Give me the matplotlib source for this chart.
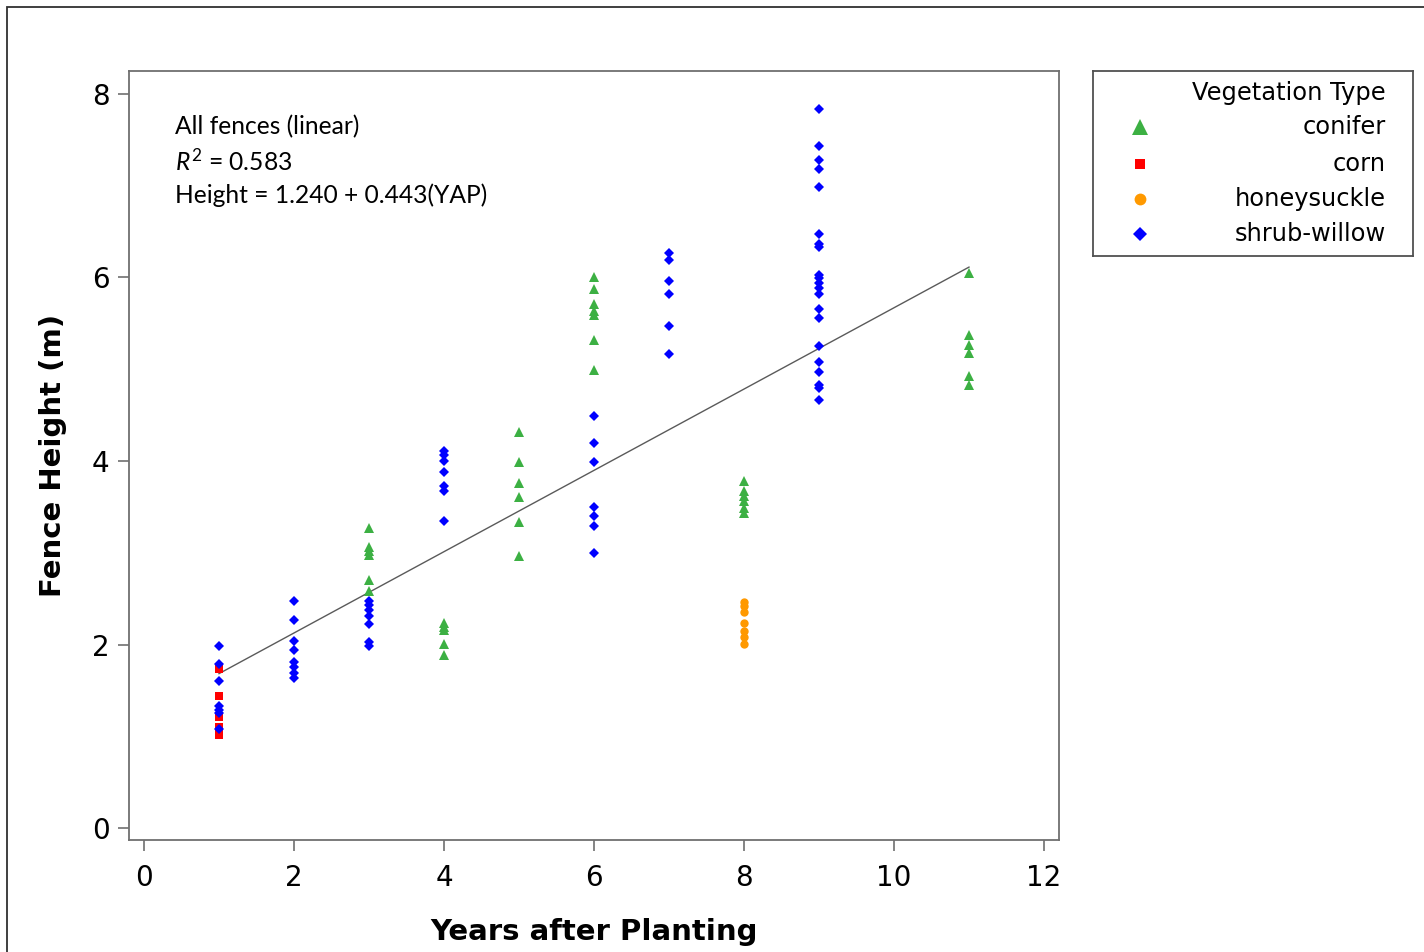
import numpy as np
import matplotlib
matplotlib.use("Agg")
import matplotlib.pyplot as plt
from matplotlib.patches import Rectangle

# ----------------------------
# Data
# ----------------------------
conifer_yap = [3] * 6 + [4] * 5 + [5] * 6 + [6] * 7 + [8] * 6 + [11] * 6
conifer_h = [3.27, 3.06, 3.02, 2.98, 2.70, 2.58,
             2.23, 2.19, 2.16, 2.01, 1.89,
             4.32, 3.99, 3.76, 3.61, 3.33, 2.96,
             6.01, 5.87, 5.71, 5.63, 5.59, 5.32, 4.99,
             3.78, 3.67, 3.62, 3.56, 3.49, 3.43,
             6.05, 5.37, 5.26, 5.18, 4.93, 4.83]

corn_yap = [1] * 5
corn_h = [1.73, 1.44, 1.21, 1.10, 1.01]

honey_yap = [8] * 7
honey_h = [2.46, 2.42, 2.36, 2.23, 2.15, 2.08, 2.01]

willow_yap = [1] * 7 + [2] * 8 + [3] * 7 + [4] * 7 + [6] * 7 + [7] * 6 + [9] * 21
willow_h = [1.98, 1.79, 1.60, 1.33, 1.29, 1.25, 1.08,
            2.47, 2.27, 2.04, 1.94, 1.81, 1.75, 1.69, 1.63,
            2.47, 2.43, 2.38, 2.31, 2.22, 2.03, 1.98,
            4.11, 4.07, 4.00, 3.88, 3.73, 3.67, 3.35,
            4.49, 4.20, 3.99, 3.50, 3.40, 3.29, 3.00,
            6.27, 6.19, 5.96, 5.82, 5.47, 5.17,
            7.84, 7.43, 7.28, 7.18, 6.99, 6.47, 6.36, 6.33, 6.03, 5.99, 5.94,
            5.88, 5.82, 5.66, 5.56, 5.25, 5.08, 4.97, 4.83, 4.80, 4.67]

fit_intercept = 1.240
fit_slope = 0.443
r_squared = 0.583

series = [
    ("conifer", conifer_yap, conifer_h, "^", "#3cb043", 7.0),
    ("corn", corn_yap, corn_h, "s", "#ff0000", 5.5),
    ("honeysuckle", honey_yap, honey_h, "o", "#ff9900", 6.0),
    ("shrub-willow", willow_yap, willow_h, "D", "#0000ff", 4.6),
]

plt.rcParams["mathtext.fontset"] = "custom"
plt.rcParams["mathtext.rm"] = "Lato"
plt.rcParams["mathtext.it"] = "Lato:italic"

W, H = 1424, 952
fig = plt.figure(figsize=(W / 100, H / 100), dpi=100)
fig.patch.set_facecolor("white")

# outer frame (partly off-canvas, like the screenshot)
fig.add_artist(Rectangle((7 / W, -0.1), 1.2, 1.1 - 7 / H, transform=fig.transFigure,
                         fill=False, edgecolor="#303030", linewidth=1.3, clip_on=False))

ax = fig.add_axes([129 / W, 1 - 840 / H, (1059 - 129) / W, (840 - 71) / H])

for name, xs, ys, mk, col, ms in series:
    ax.plot(xs, ys, linestyle="none", marker=mk, color=col, markersize=ms,
            markeredgewidth=0, zorder=3)

# regression line
xl = np.array([1, 11])
ax.plot(xl, fit_intercept + fit_slope * xl, color="#5a5a5a", linewidth=1.0, zorder=2)

ax.set_xlim(-0.2, 12.2)
ax.set_ylim(-0.13, 8.25)
ax.set_xticks(np.arange(0, 13, 2))
ax.set_yticks(np.arange(0, 9, 2))
for sp in ax.spines.values():
    sp.set_color("#707070")
    sp.set_linewidth(1.3)
ax.tick_params(direction="out", length=8, width=1.2, color="#707070",
               labelsize=20, pad=6)
ax.tick_params(axis="x", pad=9)

ax.set_xlabel("Years after Planting", fontsize=21, fontweight="bold", labelpad=19)
ax.set_ylabel("Fence Height (m)", fontsize=21, fontweight="bold", labelpad=18)

txt_kw = dict(transform=ax.transAxes, family="Lato", fontsize=17.7, va="center", ha="left")
ax.text(0.0495, 1 - (127 - 71) / 769, "All fences (linear)", **txt_kw)
ax.text(0.0495, 1 - (161 - 71) / 769, r"$R^2$ = %.3f" % r_squared, **txt_kw)
ax.text(0.0495, 1 - (195 - 71) / 769,
        "Height = %.3f + %.3f(YAP)" % (fit_intercept, fit_slope), **txt_kw)

# legend box drawn as its own axes
lx0, lx1, ly0, ly1 = 1093, 1413, 71, 256
lax = fig.add_axes([lx0 / W, 1 - ly1 / H, (lx1 - lx0) / W, (ly1 - ly0) / H])
lax.set_xlim(lx0, lx1)
lax.set_ylim(ly1, ly0)
lax.set_xticks([])
lax.set_yticks([])
for sp in lax.spines.values():
    sp.set_color("#505050")
    sp.set_linewidth(1.3)
lax.text(1386, 93, "Vegetation Type", fontsize=17.4, ha="right", va="center")
rows = [127, 164, 199, 234]
leg_ms = {"^": 11, "s": 7, "o": 8.5, "D": 7.5}
for (name, xs, ys, mk, col, ms), yy in zip(series, rows):
    lax.plot([1140], [yy], linestyle="none", marker=mk, color=col,
             markersize=leg_ms[mk], markeredgewidth=0)
    lax.text(1386, yy, name, fontsize=17.4, ha="right", va="center")

fig.savefig("out.png", dpi=100)
